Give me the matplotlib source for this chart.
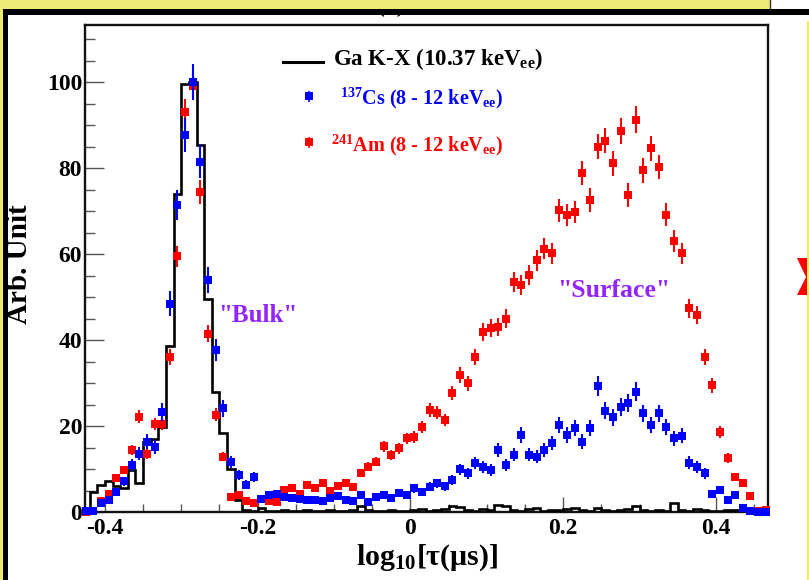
import numpy as np
import matplotlib.pyplot as plt
from matplotlib.patches import Rectangle, Polygon

plt.rcParams['font.family'] = ['Liberation Serif', 'DejaVu Serif']
plt.rcParams['font.weight'] = 'bold'
plt.rcParams['mathtext.fontset'] = 'custom'
plt.rcParams['mathtext.rm'] = 'Liberation Serif:bold'
plt.rcParams['mathtext.it'] = 'Liberation Serif:italic:bold'
plt.rcParams['mathtext.bf'] = 'Liberation Serif:bold'

# log10(tau / us) binning
bin_lo, bin_hi, bin_w = -0.43, 0.47, 0.01

# Ga K-X line, 10.37 keVee (histogram)
ga_kx = [0.0, 4.7, 6.3, 7.1, 6.0, 5.5, 9.8, 6.7, 16.3, 17.0,
         19.7, 38.6, 74.0, 99.5, 100.0, 85.3, 49.6, 27.9, 18.4, 10.1,
         2.7, 0.4, 0.3, 1.0, 0.3, 0.2, 0.4, 0.3, 0.2, 0.5,
         0.3, 0.2, 0.4, 0.3, 0.2, 0.5, 1.3, 0.4, 0.3, 0.2,
         0.5, 0.3, 0.2, 0.4, 0.6, 0.3, 0.5, 0.8, 1.3, 1.2,
         0.5, 0.3, 0.6, 0.4, 1.6, 1.5, 0.5, 0.3, 0.6, 1.0,
         0.3, 0.5, 0.4, 0.6, 1.0, 0.4, 0.3, 1.0, 0.5, 0.3,
         0.4, 0.6, 1.5, 0.4, 0.3, 0.5, 0.3, 2.0, 0.5, 0.3,
         0.6, 0.4, 0.2, 0.3, 0.5, 0.4, 0.3, 0.5, 0.4, 0.3]

# Cs-137 source, 8 - 12 keVee
cs137 = [0.2, 0.3, 2.0, 2.8, 4.7, 7.1, 10.9, 13.6, 16.4, 15.2,
         23.3, 48.5, 71.4, 87.7, 100.0, 81.5, 54.0, 37.7, 24.1, 11.7,
         8.6, 6.3, 8.2, 3.0, 4.0, 4.3, 3.5, 3.2, 3.0, 2.8,
         2.8, 2.6, 3.2, 3.8, 2.8, 2.6, 4.0, 2.4, 3.6, 4.0,
         3.2, 4.5, 4.0, 5.5, 4.7, 5.9, 6.7, 6.0, 7.4, 9.9,
         9.0, 11.3, 10.5, 9.8, 14.4, 10.9, 13.3, 17.9, 13.3, 12.9,
         14.4, 16.0, 20.2, 17.9, 19.5, 16.4, 19.5, 29.3, 23.6, 22.0,
         24.5, 25.4, 28.0, 23.0, 20.2, 23.0, 19.7, 17.1, 17.7, 11.5,
         10.5, 9.0, 4.2, 5.1, 2.8, 4.0, 0.9, 0.2, 0.1, 0.1]

# Am-241 source, 8 - 12 keVee
am241 = [0.0, 0.3, 2.5, 4.3, 8.0, 9.8, 14.4, 22.2, 13.6, 20.5,
         20.5, 36.0, 59.5, 93.1, 99.0, 74.5, 41.5, 22.6, 12.9, 3.6,
         4.0, 2.5, 2.0, 3.0, 2.6, 2.4, 5.1, 5.5, 4.3, 6.3,
         5.5, 6.7, 5.0, 6.0, 6.7, 5.9, 9.0, 10.5, 11.7, 15.3,
         13.3, 14.8, 17.1, 17.5, 19.8, 23.7, 23.1, 21.4, 27.7, 31.9,
         29.9, 36.0, 41.9, 42.7, 43.0, 45.0, 53.6, 52.8, 55.1, 58.6,
         61.3, 60.2, 70.2, 69.1, 69.8, 78.8, 72.6, 85.0, 86.4, 81.1,
         88.7, 73.7, 91.3, 79.5, 84.6, 80.3, 69.2, 63.1, 60.2, 47.4,
         45.8, 36.0, 29.5, 18.7, 12.5, 8.1, 6.7, 3.8, 0.3, 0.5]

# counts per arbitrary unit, for Poisson error bars
cs_norm = 5.7
am_norm = 9.8

W, H = 809, 580
fig = plt.figure(figsize=(W / 100, H / 100), dpi=100)
fig.patch.set_facecolor('white')

ax = fig.add_axes([85 / W, 1 - 512 / H, 683 / W, 487 / H])

edges = np.round(np.arange(bin_lo, bin_hi + bin_w / 2, bin_w), 3)
centers = edges[:-1] + bin_w / 2
ga = np.array(ga_kx)
cs = np.array(cs137)
am = np.array(am241)

ax.stairs(ga, edges, color='black', lw=1.9, baseline=0, zorder=3)
ax.errorbar(centers, am, yerr=np.sqrt(am / am_norm), fmt='s', color='#ff0000',
            ms=6, mew=0, elinewidth=1.5, capsize=2, capthick=1.5, zorder=4,
            clip_on=False)
ax.errorbar(centers, cs, yerr=np.sqrt(cs / cs_norm), fmt='s', color='#0000ff',
            ms=6, mew=0, elinewidth=1.5, capsize=2, capthick=1.5, zorder=5,
            clip_on=False)

ax.set_xlim(-0.426, 0.468)
ax.set_ylim(0, 113.3)
ax.set_xticks([-0.4, -0.2, 0, 0.2, 0.4])
ax.set_xticklabels(['-0.4', '-0.2', '0', '0.2', '0.4'])
ax.set_xticks(np.arange(-0.4, 0.46, 0.05), minor=True)
ax.set_yticks([0, 20, 40, 60, 80, 100])
ax.set_yticks(np.arange(0, 113, 5), minor=True)
ax.tick_params(axis='both', which='both', direction='in', color='#555555',
               width=1.0, labelsize=17, top=False, right=False)
ax.tick_params(axis='y', which='major', length=14, pad=2)
ax.tick_params(axis='y', which='minor', length=7)
ax.tick_params(axis='x', which='major', length=11, pad=4)
ax.tick_params(axis='x', which='minor', length=6)
for lab in ax.get_xticklabels() + ax.get_yticklabels():
    lab.set_fontweight('bold')
for sp in ax.spines.values():
    sp.set_linewidth(1.7)
    sp.set_color('#111111')

ax.set_ylabel('Arb. Unit', fontsize=21, fontweight='bold')
ax.yaxis.set_label_coords(-0.076, 0.509)
ax.set_xlabel(r'log$_{10}$[τ(μs)]', fontsize=21.5, fontweight='bold')
ax.xaxis.set_label_coords(0.5007, -0.062)

purple = '#9224ff'
ax.text(-0.2, 45.6, '"Bulk"', color=purple, fontsize=18, fontweight='bold',
        ha='center', va='center')
ax.text(0.266, 51.6, '"Surface"', color=purple, fontsize=18.5,
        fontweight='bold', ha='center', va='center')

# decoration layer in pixel coordinates
deco = fig.add_axes([0, 0, 1, 1], zorder=10)
deco.set_xlim(0, W)
deco.set_ylim(H, 0)
deco.axis('off')
deco.patch.set_alpha(0)

yellow = '#efe977'
deco.text(391, 12.5, '(a)', fontsize=17, fontweight='bold', ha='center',
          va='baseline', color='black', zorder=1)
deco.add_patch(Rectangle((0, 0), 770, 9, color=yellow, lw=0, zorder=2))
deco.add_patch(Rectangle((0, 0), 3, H, color=yellow, lw=0, zorder=2))
deco.add_patch(Rectangle((770, 0), 40, 9, color='white', lw=0, zorder=2))
deco.add_patch(Rectangle((807.3, 21), 2, H, color=yellow, lw=0, zorder=2))
deco.add_patch(Rectangle((3, 9), W, 5.5, color='black', lw=0, zorder=3))
deco.add_patch(Rectangle((3, 9), 5.3, H, color='black', lw=0, zorder=3))
deco.plot([770, 770], [0, 9], color='#333333', lw=1, zorder=3)
deco.add_patch(Polygon([(797, 258), (809, 258), (809, 295), (797, 295),
                        (806, 277)], closed=True, color='#ff0000', lw=0))

# legend
deco.plot([283, 323], [62, 62], color='black', lw=2.2)
deco.text(333, 65.5, r'Ga K-X (10.37 keV$_{\mathrm{ee}}$)', fontsize=16.5,
          fontweight='bold', ha='left', va='baseline')
deco.errorbar([309], [96], yerr=[[5], [6]], fmt='s', color='#0000ff', ms=6,
              mew=0, elinewidth=1.2, capsize=2, capthick=1.2)
deco.text(503, 104.5, r'$^{137}$Cs (8 - 12 keV$_{\mathrm{ee}}$)', fontsize=14.5,
          fontweight='bold', color='#0000ff', ha='right', va='baseline')
deco.errorbar([309], [142], yerr=[[5], [6]], fmt='s', color='#ff0000', ms=6,
              mew=0, elinewidth=1.2, capsize=2, capthick=1.2)
deco.text(503, 151.5, r'$^{241}$Am (8 - 12 keV$_{\mathrm{ee}}$)', fontsize=14.5,
          fontweight='bold', color='#ff0000', ha='right', va='baseline')

fig.savefig('out.png', dpi=100)
